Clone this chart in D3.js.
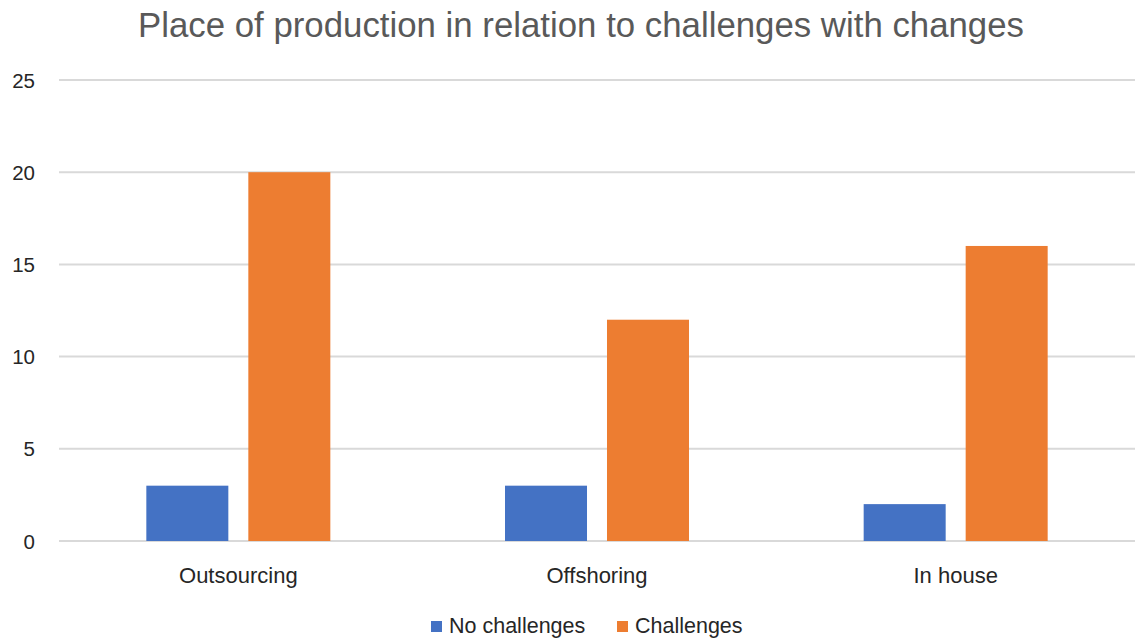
<!DOCTYPE html>
<html>
<head>
<meta charset="utf-8">
<script src="https://cdn.jsdelivr.net/npm/d3@7"></script>
<style>
  html, body { margin: 0; padding: 0; background: #ffffff; }
  svg { display: block; font-family: "Liberation Sans", Arial, sans-serif; }
</style>
</head>
<body>
<svg id="chart" width="1135" height="638"></svg>
<script>
// Chart data
const categories = ["Outsourcing", "Offshoring", "In house"];
const seriesNames = ["No challenges", "Challenges"];
const noChallenges = [3, 3, 2];
const challenges = [20, 12, 16];
const yTicks = [0, 5, 10, 15, 20, 25];
const seriesColors = ["#4472C4", "#ED7D31"];

const seriesValues = [noChallenges, challenges];
const rows = categories.map((c, i) => ({
  category: c,
  values: seriesNames.map((s, j) => ({ series: s, value: seriesValues[j][i], color: seriesColors[j] }))
}));

const svg = d3.select("#chart");
const plot = { left: 59, right: 1135, top: 80, bottom: 541 };

const x0 = d3.scaleBand().domain(categories).range([plot.left, plot.right]).paddingInner(0).paddingOuter(0);
const groupWidth = 184;
const x1 = d3.scaleBand().domain(seriesNames).range([0, groupWidth]).paddingInner(0.196).paddingOuter(0);
const y = d3.scaleLinear().domain([0, 25]).range([plot.bottom, plot.top]);

// Title
svg.append("text")
  .attr("x", 581).attr("y", 37)
  .attr("text-anchor", "middle")
  .attr("font-size", 34.8)
  .attr("fill", "#595959")
  .text("Place of production in relation to challenges with changes");

// Horizontal gridlines
svg.append("g")
  .selectAll("line")
  .data(yTicks)
  .join("line")
  .attr("x1", plot.left).attr("x2", plot.right)
  .attr("y1", d => y(d)).attr("y2", d => y(d))
  .attr("stroke", "#d9d9d9")
  .attr("stroke-width", 2);

// Y axis labels
const yAxis = d3.axisLeft(y).tickValues(yTicks).tickSize(0).tickPadding(0);
const gy = svg.append("g").attr("transform", `translate(35,0)`).call(yAxis);
gy.select(".domain").remove();
gy.selectAll("text")
  .attr("font-size", 20.5)
  .attr("font-family", "'Liberation Sans', Arial, sans-serif")
  .attr("fill", "#262626")
  .attr("dy", "0.35em");

// Bars
const groups = svg.append("g")
  .selectAll("g")
  .data(rows)
  .join("g")
  .attr("transform", d => `translate(${x0(d.category) + x0.bandwidth() / 2 - groupWidth / 2},0)`);

groups.selectAll("rect")
  .data(d => d.values)
  .join("rect")
  .attr("x", d => x1(d.series))
  .attr("width", x1.bandwidth())
  .attr("y", d => y(d.value))
  .attr("height", d => y(0) - y(d.value))
  .attr("fill", d => d.color);

// Category labels
const xAxis = d3.axisBottom(x0).tickSize(0).tickPadding(0);
const gx = svg.append("g").attr("transform", `translate(0,${plot.bottom})`).call(xAxis);
gx.select(".domain").remove();
gx.selectAll("text")
  .attr("font-size", 22)
  .attr("font-family", "'Liberation Sans', Arial, sans-serif")
  .attr("fill", "#262626")
  .attr("dy", 0)
  .attr("y", 42);

// Legend
const legendItems = [
  { name: seriesNames[0], color: seriesColors[0], x: 431 },
  { name: seriesNames[1], color: seriesColors[1], x: 617 }
];
const lg = svg.append("g")
  .selectAll("g")
  .data(legendItems)
  .join("g")
  .attr("transform", d => `translate(${d.x},0)`);
lg.append("rect")
  .attr("x", 0).attr("y", 621)
  .attr("width", 11).attr("height", 11)
  .attr("fill", d => d.color);
lg.append("text")
  .attr("x", 18).attr("y", 633)
  .attr("font-size", 21.5)
  .attr("fill", "#262626")
  .text(d => d.name);
</script>
</body>
</html>
